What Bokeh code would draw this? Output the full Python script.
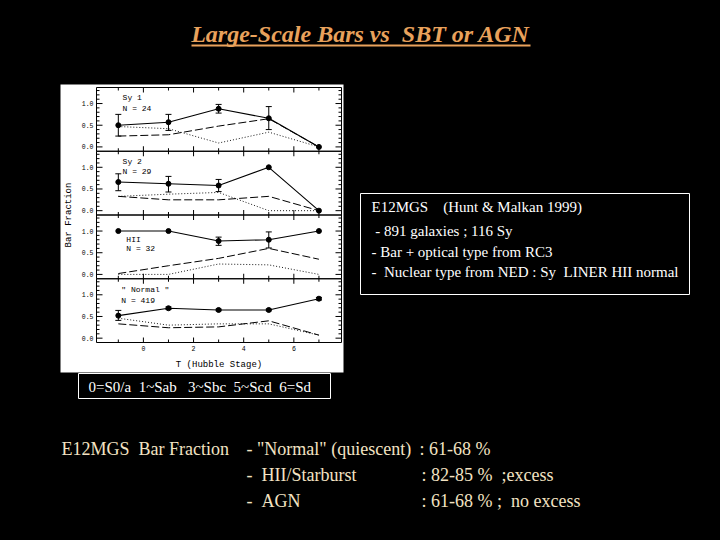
import numpy as np
from bokeh.plotting import figure
from bokeh.models import Range1d
from bokeh.core.properties import value
from bokeh.embed import file_html
from bokeh.resources import INLINE

# Hubble stage bins
t_stage = [-1, 1, 3, 5, 7]

panel_names = ["Sy 1", "Sy 2", "HII", '" Normal "']
panel_counts = ["N = 24", "N = 29", "N = 32", "N = 419"]

# bar fraction (solid) with error range, and the two other fractions (dashed, dotted)
bar_sy1 = [0.50, 0.57, 0.88, 0.66, 0.0]
lo_sy1 = [0.25, 0.38, 0.78, 0.40, None]
hi_sy1 = [0.75, 0.75, 0.98, 0.93, None]
dash_sy1 = [0.25, 0.28, 0.48, 0.65, 0.0]
dot_sy1 = [0.47, 0.42, 0.09, 0.34, 0.0]

bar_sy2 = [0.66, 0.62, 0.58, 1.0, 0.0]
lo_sy2 = [0.46, 0.43, 0.44, None, None]
hi_sy2 = [0.85, 0.79, 0.72, None, None]
dash_sy2 = [0.33, 0.25, 0.25, 0.33, 0.0]
dot_sy2 = [0.33, 0.38, 0.42, 0.0, 0.0]

bar_hii = [1.0, 1.0, 0.77, 0.80, 1.0]
lo_hii = [None, None, 0.67, 0.61, None]
hi_hii = [None, None, 0.86, 0.98, None]
dash_hii = [0.02, 0.20, 0.37, 0.60, 0.35]
dot_hii = [0.0, 0.0, 0.24, 0.22, 0.0]

bar_norm = [0.52, 0.69, 0.65, 0.65, 0.91]
lo_norm = [0.41, 0.66, 0.63, 0.63, 0.88]
hi_norm = [0.64, 0.72, 0.67, 0.67, 0.94]
dash_norm = [0.33, 0.24, 0.26, 0.40, 0.07]
dot_norm = [0.46, 0.30, 0.33, 0.33, 0.07]

y_ticks = [0.0, 0.5, 1.0]
y_minor = [round(i / 10, 1) for i in range(0, 14)]
x_ticks = [0, 2, 4, 6]
x_minor = list(range(-1, 8))

title_text = "Large-Scale Bars vs\u00a0\u00a0SBT or AGN"
box_lines = ["E12MGS\u00a0\u00a0\u00a0\u00a0(Hunt & Malkan 1999)",
             "\u00a0- 891 galaxies ; 116 Sy",
             "- Bar + optical type from RC3",
             "-\u00a0\u00a0Nuclear type from NED : Sy\u00a0\u00a0LINER HII normal"]
type_key = "0=S0/a\u00a0\u00a01~Sab\u00a0\u00a0 3~Sbc\u00a0\u00a05~Scd\u00a0\u00a06=Sd"
summary_head = "E12MGS\u00a0\u00a0Bar Fraction"
summary_class = ['- "Normal" (quiescent)', "-\u00a0\u00a0HII/Starburst", "-\u00a0\u00a0AGN"]
summary_value = [": 61-68 %", ": 82-85 %\u00a0\u00a0;excess", ": 61-68 % ;\u00a0\u00a0no excess"]

# ---- layout (page pixel coordinates) ----
ORG = 0                                # page position of the canvas origin
W, H = 704, 524
PL, PR, PT, PB = 96, 341, 87, 342      # panel block on the page
T0, T1 = -1.87, 7.9                    # Hubble stage range
Y0, SPAN = -0.1, 1.47                  # each panel: -0.1 .. 1.37
PH = (PB - PT) / 4
XS = (T1 - T0) / (PR - PL)             # stage units per pixel
YS = SPAN / PH                         # fraction units per pixel
MONO = "Liberation Mono"
SERIF = "Liberation Serif"
ORANGE = "#e9a25c"
CREAM = "#f3e3c3"

p = figure(width=W, height=H, output_backend="svg", toolbar_location=None,
           x_range=Range1d(ORG, ORG + W), y_range=Range1d(ORG + H, ORG),
           x_axis_location=None, y_axis_location=None, min_border=0,
           background_fill_color="black", border_fill_color="black",
           outline_line_color=None)
p.grid.visible = False

# stage axis shared by the panels, one fraction axis per panel
p.extra_x_ranges = {"t": Range1d(T0 - (PL - ORG) * XS, T0 + (ORG + W - PL) * XS)}
for k in range(4):
    bottom = PT + (k + 1) * PH
    p.extra_y_ranges["p%d" % k] = Range1d(Y0 - (ORG + H - bottom) * YS,
                                          Y0 + (bottom - ORG) * YS)

# white backing of the pasted figure
p.quad(left=[60], right=[343], top=[84], bottom=[372], fill_color="white", line_color=None)

def ptext(xs, ys, texts, size, color="black", font=MONO, align="left", baseline="middle",
          style="normal", angle=0, **kw):
    p.text(x=xs, y=ys, text=texts, text_font=value(font), text_font_size=size,
           text_color=color, text_align=align, text_baseline=baseline,
           text_font_style=style, angle=angle, **kw)

series = [(bar_sy1, lo_sy1, hi_sy1, dash_sy1, dot_sy1),
          (bar_sy2, lo_sy2, hi_sy2, dash_sy2, dot_sy2),
          (bar_hii, lo_hii, hi_hii, dash_hii, dot_hii),
          (bar_norm, lo_norm, hi_norm, dash_norm, dot_norm)]

name_t = [-0.83, -0.83, -0.68, -0.88]
name_y = [1.13, 1.13, 0.81, 1.13]
count_y = [0.88, 0.90, 0.60, 0.88]

Y1 = Y0 + SPAN
for k, (bar, lo, hi, dash, dot) in enumerate(series):
    rn = dict(x_range_name="t", y_range_name="p%d" % k)
    # panel box
    p.quad(left=[T0], right=[T1], bottom=[Y0], top=[Y1], fill_color=None,
           line_color="black", line_width=1, **rn)
    # x ticks (inward, bottom and top)
    xl = [(5 if t in x_ticks else 3) * YS for t in x_minor]
    p.segment(x0=x_minor, x1=x_minor, y0=[Y0] * len(x_minor),
              y1=[Y0 + d for d in xl], line_color="black", line_width=1, **rn)
    p.segment(x0=x_minor, x1=x_minor, y0=[Y1] * len(x_minor),
              y1=[Y1 - d for d in xl], line_color="black", line_width=1, **rn)
    # y ticks (inward, left and right)
    yl = [(6 if v in y_ticks else 3) * XS for v in y_minor]
    p.segment(x0=[T0] * len(y_minor), x1=[T0 + d for d in yl], y0=y_minor, y1=y_minor,
              line_color="black", line_width=1, **rn)
    p.segment(x0=[T1] * len(y_minor), x1=[T1 - d for d in yl], y0=y_minor, y1=y_minor,
              line_color="black", line_width=1, **rn)
    ptext([T0] * len(y_ticks), y_ticks, ["%.1f" % v for v in y_ticks], "6.5px",
          align="right", x_offset=-3, **rn)

    p.line(t_stage, dot, line_color="black", line_width=0.9, line_dash="1 2", **rn)
    p.line(t_stage, dash, line_color="black", line_width=1, line_dash="8 3", **rn)
    p.line(t_stage, bar, line_color="black", line_width=1.1, **rn)
    p.scatter(t_stage, bar, size=5, color="black", **rn)

    lo_a = np.array(lo, dtype=float)
    hi_a = np.array(hi, dtype=float)
    keep = ~np.isnan(lo_a)
    te = np.array(t_stage)[keep]
    p.segment(x0=te, x1=te, y0=lo_a[keep], y1=hi_a[keep], line_color="black",
              line_width=1, **rn)
    p.scatter(np.concatenate([te, te]), np.concatenate([lo_a[keep], hi_a[keep]]),
              marker="dash", size=6, line_color="black", line_width=1, **rn)

    ptext([name_t[k], name_t[k]], [name_y[k], count_y[k]], [panel_names[k], panel_counts[k]],
          "8px", **rn)

# stage tick labels and axis titles
ptext(x_ticks, [Y0] * len(x_ticks), [str(t) for t in x_ticks], "6.5px", align="center",
      baseline="top", y_offset=3, x_range_name="t", y_range_name="p3")
ptext([(PL + PR) / 2], [PB + 22], ["T (Hubble Stage)"], "9px", align="center")
ptext([68], [(PT + PB) / 2], ["Bar Fraction"], "9px", align="center", angle=np.pi / 2)

# ---- slide decorations ----
ptext([360], [33], [title_text], "24px", ORANGE, SERIF, "center", style="bold italic")
p.quad(left=[191], right=[530], top=[44], bottom=[46], fill_color=ORANGE, line_color=None)

p.quad(left=[360], right=[689], top=[193], bottom=[294], fill_color="black",
       line_color="white", line_width=1)
ptext([371] * 4, [206, 230, 251, 271], box_lines, "15px", "white", SERIF)

p.quad(left=[78], right=[330], top=[373], bottom=[398], fill_color="black",
       line_color="white", line_width=1)
ptext([88], [386], [type_key], "15px", "white", SERIF)

rows = [448, 474, 500]
ptext([61], [rows[0]], [summary_head], "18px", CREAM, SERIF)
ptext([246] * 3, rows, summary_class, "18px", CREAM, SERIF)
ptext([419, 421, 421], rows, summary_value, "18px", CREAM, SERIF)

html = file_html(p, INLINE)
html = html.replace("<body>", '<body style="background-color:#000000">')
open("out.html", "w").write(html)
